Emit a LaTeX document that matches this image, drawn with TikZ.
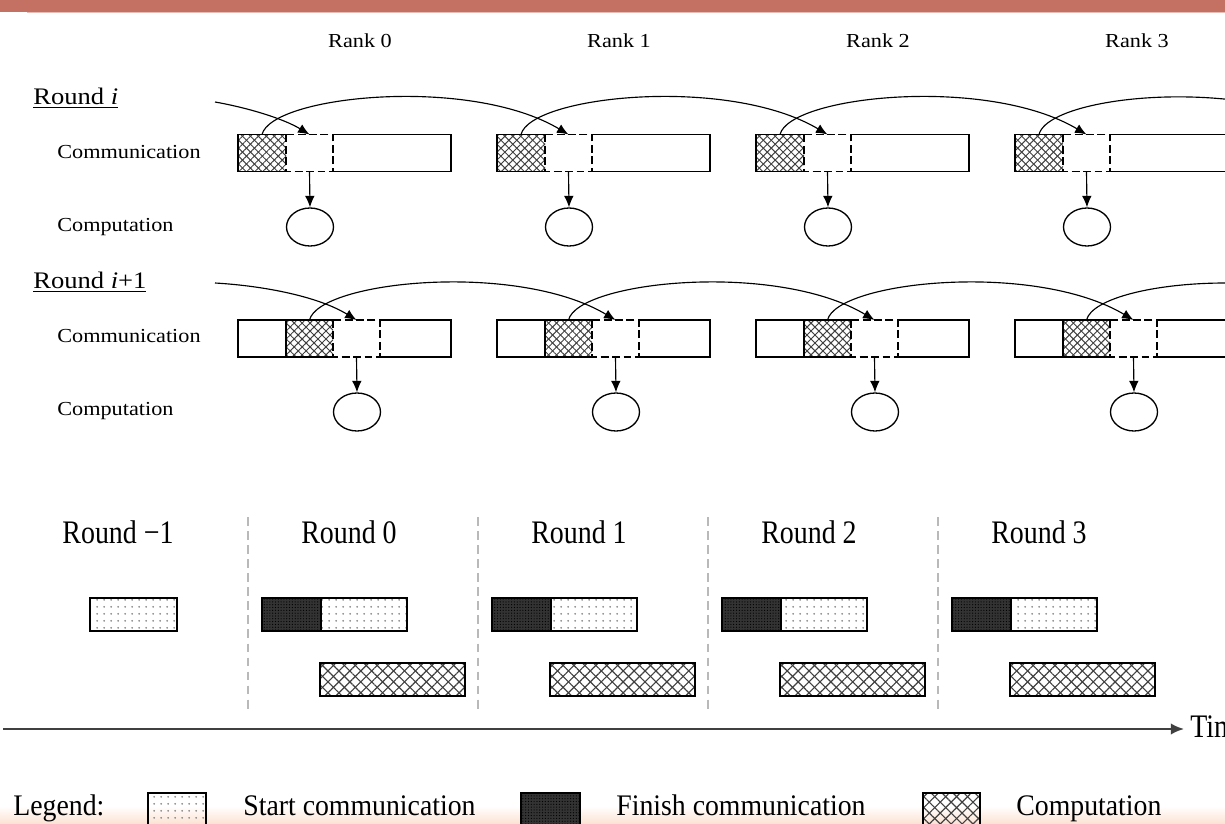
\documentclass[tikz,border=0pt]{standalone}
\usepackage{fontspec}
\setmainfont{Liberation Serif}
\newfontfamily\topf{Liberation Serif}[FakeStretch=1.12]
\newfontfamily\botf{Liberation Serif}[FakeStretch=0.85]
\newfontfamily\legf{Liberation Serif}[FakeStretch=0.93]
\usetikzlibrary{arrows.meta,patterns.meta,shapes.geometric}
\definecolor{barred}{RGB}{196,112,98}
\definecolor{barlight}{RGB}{230,190,182}
\definecolor{peach}{RGB}{252,226,210}
\def\pxu{0.02cm}
\begin{document}
\begin{tikzpicture}[x=0.02cm,y=-0.02cm,
  toplbl/.style={inner sep=0, font={\topf\fontsize{11.3pt}{13pt}\selectfont}},
  roundlbl/.style={inner sep=0, anchor=base west, font={\topf\fontsize{13.5pt}{16pt}\selectfont}},
  botlbl/.style={inner sep=0, anchor=base, font={\botf\fontsize{18.7pt}{22pt}\selectfont}},
  leglbl/.style={inner sep=0, anchor=base west, font={\legf\fontsize{17pt}{20pt}\selectfont}},
  seg/.style={inner sep=0, outer sep=0, minimum height=37*\pxu},
  bar/.style={line width=0.85pt},
  dashbar/.style={line width=0.85pt, dash pattern=on 4.5pt off 2pt},
  hatchtop/.style={preaction={pattern={Lines[angle=45,distance=3.2pt,line width=0.55pt]}, pattern color=black!75},
                   pattern={Lines[angle=-45,distance=3.2pt,line width=0.55pt]}, pattern color=black!75},
  proc/.style={draw, ellipse, line width=0.75pt, inner sep=0, minimum width=47*\pxu, minimum height=38*\pxu},
  link/.style={line width=0.65pt, -{Latex[length=6.5pt,width=5.5pt]}},
  curve/.style={line width=0.65pt},
  bbox/.style={draw, line width=1.1pt, inner sep=0, outer sep=0, minimum height=33*\pxu},
  startc/.style={pattern={Dots[distance=4pt,radius=0.6pt]}, pattern color=black!55},
  finishc/.style={preaction={fill=black!80}, pattern={Dots[distance=1.6pt,radius=0.35pt]}, pattern color=black},
  compc/.style={preaction={pattern={Lines[angle=45,distance=4.4pt,line width=0.65pt]}, pattern color=black!75},
                pattern={Lines[angle=-45,distance=4.4pt,line width=0.65pt]}, pattern color=black!75},
  sep/.style={gray!55, line width=0.8pt, dash pattern=on 5pt off 3pt},
]
\useasboundingbox (0,0) rectangle (1225,824);
\fill[white] (0,0) rectangle (1225,824);
\fill[barred] (0,0) rectangle (1225,12);
\fill[barlight] (27,12) rectangle (1225,13.5);
\shade[top color=white,bottom color=peach] (0,806) rectangle (1225,824);

% ---------- top part ----------
\node[roundlbl] (ri) at (33,105) {\underline{Round \textit{i}}};
\node[roundlbl] (ri1) at (33,289) {\underline{Round \textit{i}+1}};
\node[toplbl, anchor=base west] (cmA) at (57,159) {Communication};
\node[toplbl, anchor=base west] (cpA) at (57,232) {Computation};
\node[toplbl, anchor=base west] (cmB) at (57,343) {Communication};
\node[toplbl, anchor=base west] (cpB) at (57,416) {Computation};

\foreach \r in {0,1,2,3}{
  \pgfmathsetmacro\bx{238+259*\r}
  \node[toplbl, anchor=base] (rk\r) at (360+259*\r,48) {Rank \r};
  % round i
  \node[seg, hatchtop, minimum width=48*\pxu] (hA\r) at (\bx+24,153) {};
  \node[seg, minimum width=47*\pxu] (dA\r) at (\bx+71.5,153) {};
  \node[seg, minimum width=118*\pxu] (pA\r) at (\bx+154,153) {};
  \draw[bar] (hA\r.north east) -- (hA\r.north west) -- (hA\r.south west) -- (hA\r.south east);
  \draw[dashbar] (dA\r.north west) rectangle (dA\r.south east);
  \draw[bar] (pA\r.north west) -- (pA\r.north east) -- (pA\r.south east) -- (pA\r.south west);
  \node[proc] (cA\r) at (\bx+72,227) {};
  \draw[link] (dA\r.south) -- (cA\r.north);
  % round i+1
  \node[seg, minimum width=48*\pxu] (lB\r) at (\bx+24,338.5) {};
  \node[seg, hatchtop, minimum width=47*\pxu] (hB\r) at (\bx+71.5,338.5) {};
  \node[seg, minimum width=47*\pxu] (dB\r) at (\bx+118.5,338.5) {};
  \node[seg, minimum width=71*\pxu] (pB\r) at (\bx+177.5,338.5) {};
  \draw[bar] (lB\r.north west) rectangle (lB\r.south east);
  \draw[bar] (hB\r.north west) -- (hB\r.north east);
  \draw[bar] (hB\r.south west) -- (hB\r.south east);
  \draw[dashbar] (dB\r.north west) rectangle (dB\r.south east);
  \draw[bar] (pB\r.north west) -- (pB\r.north east) -- (pB\r.south east) -- (pB\r.south west);
  \node[proc] (cB\r) at (\bx+119,412) {};
  \draw[link] (dB\r.south) -- (cB\r.north);
}
\foreach \r/\n in {0/1,1/2,2/3}{
  \draw[link] (hA\r.north) .. controls +(10,-39) and +(-99,-59) .. (dA\n.north);
  \draw[link] (hB\r.north) .. controls +(10,-39) and +(-99,-59) .. (dB\n.north);
}
\coordinate (inA) at (215,102);
\draw[link] (inA) .. controls (249,108) and (284,119) .. (dA0.north);
\coordinate (inB) at (215,283);
\draw[link] (inB) .. controls (266,286) and (319,297) .. (dB0.north);
\coordinate (outA) at (1226,99.2);
\draw[curve] (hA3.north) .. controls (1045.7,107.9) and (1136.8,90.3) .. (outA);
\coordinate (outB) at (1226,283);
\draw[curve] (hB3.north) .. controls (1092,298.6) and (1154,283) .. (outB);

% ---------- bottom part ----------
\foreach \x in {248,478,708,938} \draw[sep] (\x,517) -- (\x,712);
\node[botlbl] (rdm) at (118,543) {Round −1};
\node[bbox, startc, minimum width=87*\pxu] (sm) at (133.5,614.5) {};
\foreach \r in {0,1,2,3}{
  \pgfmathsetmacro\cx{262+230*\r}
  \node[botlbl] (rd\r) at (349+230*\r,543) {Round \r};
  \node[bbox, finishc, minimum width=59*\pxu] (f\r) at (\cx+29.5,614.5) {};
  \node[bbox, startc, minimum width=86*\pxu] (s\r) at (\cx+102,614.5) {};
  \node[bbox, compc, minimum width=145*\pxu] (k\r) at (\cx+130.5,679.5) {};
}
\coordinate (tstart) at (3,729);
\coordinate (tend) at (1184,729);
\draw[line width=1.2pt, black!75, -{Latex[length=7.5pt,width=6.5pt]}] (tstart) -- (tend);
\node[botlbl, anchor=base west] (time) at (1190,737) {Time};

% ---------- legend ----------
\node[leglbl] (lg) at (13,815) {Legend:};
\node[bbox, startc, minimum width=58*\pxu] (ls) at (177,809.5) {};
\node[leglbl] (lst) at (243,815) {Start communication};
\node[bbox, finishc, minimum width=59*\pxu] (lf) at (550.5,809.5) {};
\node[leglbl] (lft) at (616,815) {Finish communication};
\node[bbox, compc, minimum width=57*\pxu] (lk) at (951.5,809.5) {};
\node[leglbl] (lkt) at (1016,815) {Computation};
\end{tikzpicture}
\end{document}
